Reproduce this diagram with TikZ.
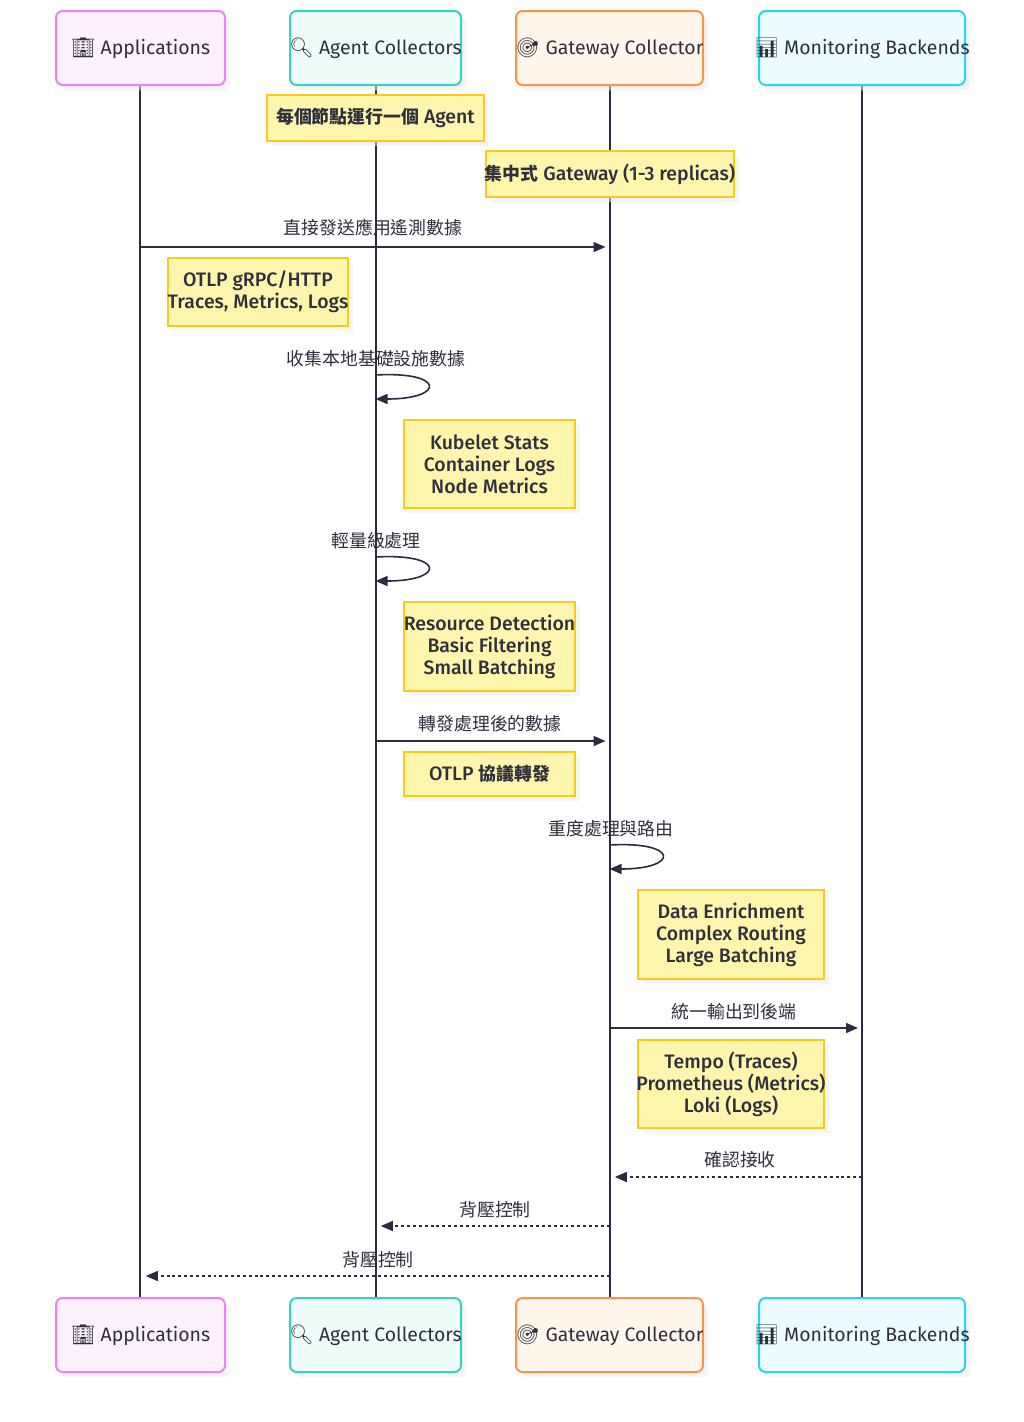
\documentclass[tikz,border=0pt]{standalone}
\usepackage{fontspec}
\setmainfont{Fira Sans}[BoldFont={Fira Sans Medium}]
\newfontfamily\cjk{Noto Sans CJK TC}
\newfontfamily\emoji{Noto Emoji}
\usetikzlibrary{positioning}
\usetikzlibrary{arrows.meta}
\usetikzlibrary{calc}
\usetikzlibrary{shadows}

\definecolor{lineC}{HTML}{2C2B42}
\definecolor{textC}{HTML}{2F2F3F}
\definecolor{noteF}{HTML}{FFF5AD}
\definecolor{noteD}{HTML}{F8CA1C}
\definecolor{appF}{HTML}{FDF1FD}
\definecolor{appD}{HTML}{EC80F6}
\definecolor{agentF}{HTML}{EFFDFA}
\definecolor{agentD}{HTML}{34D5BE}
\definecolor{gwF}{HTML}{FFF6EC}
\definecolor{gwD}{HTML}{FB9445}
\definecolor{monF}{HTML}{EBFDFF}
\definecolor{monD}{HTML}{2AD5EE}

\begin{document}
\begin{tikzpicture}[x=0.75pt, y=-0.75pt,
    actor/.style={draw=#1D, fill=#1F, line width=1.5pt, rounded corners=5pt,
        inner sep=0pt, minimum height=55.5pt,
        drop shadow={shadow xshift=4pt, shadow yshift=-4pt, fill=black!7}},
    acttxt/.style={text=textC, inner sep=0pt, font=\fontsize{14.6}{17}\selectfont},
    note/.style={draw=noteD, fill=noteF, line width=1.5pt, inner sep=0pt,
        drop shadow={shadow xshift=4pt, shadow yshift=-4pt, fill=black!7}},
    sz/.style 2 args={minimum width=#1*0.75pt, minimum height=#2*0.75pt},
    notetxt/.style={align=center, text=textC, inner sep=0pt,
        font=\bfseries\fontsize{14.6}{16.5}\selectfont},
    life/.style={draw=lineC, line width=1.5pt},
    msg/.style={draw=lineC, line width=1.2pt, -{Triangle[length=9pt, width=7.5pt]}},
    reply/.style={msg, dash pattern=on 2.2pt off 2.2pt},
    lab/.style={text=textC, inner sep=0pt, font=\cjk\fontsize{13.4}{15}\selectfont}
]
    % page
    \fill[white] (0,0) rectangle (1024,1422);
    \useasboundingbox (0,0) rectangle (1024,1422);

    % lifelines
    \foreach \n/\x in {app/140, agent/376, gw/610, mon/862} {
        \coordinate (\n T) at (\x,85);
        \coordinate (\n B) at (\x,1298);
        \draw[life] (\n T) -- (\n B);
    }

    % participants, top and bottom
    \foreach \y/\s in {48/, 1335/b} {
        \node[actor=app, sz={169}{74}] (app\s) at (140.5,\y) {};
        \node[acttxt] at (app\s) {{\emoji 🏢} Applications};
        \node[actor=agent, sz={171}{74}] (agent\s) at (375.5,\y) {};
        \node[acttxt] at (agent\s) {{\emoji 🔍} Agent Collectors};
        \node[actor=gw, sz={187}{74}] (gw\s) at (609.5,\y) {};
        \node[acttxt] at (gw\s) {{\emoji 🎯} Gateway Collector};
        \node[actor=mon, sz={206}{74}] (mon\s) at (862,\y) {};
        \node[acttxt] at (mon\s) {{\emoji 📊} Monitoring Backends};
    }

    % notes
    \node[note, sz={217}{46}] (n1) at (375.5,118) {};
    \node[notetxt] at (n1) {{\cjk\fontsize{13.4}{15}\selectfont 每個節點運行一個} Agent};
    \node[note, sz={248}{46}] (n2) at (610,174) {};
    \node[notetxt] at (n2) {{\cjk\fontsize{13.4}{15}\selectfont 集中式} Gateway (1-3 replicas)};

    % apps send straight to the gateway
    \draw[msg, shorten >=3pt] (app |- 0,247) -- (gw |- 0,247);
    \node[lab] (l1) at (373,228) {直接發送應用遙測數據};
    \node[note, sz={180}{68}] (n3) at (258,292) {};
    \node[notetxt] at (n3) {OTLP gRPC/HTTP\\Traces, Metrics, Logs};

    % agent: local collection
    \coordinate (c1) at (agent |- 0,375);
    \coordinate (c2) at (agent |- 0,399);
    \draw[msg] (c1) .. controls +(70,-4) and +(70,0) .. (c2);
    \node[lab] (l2) at (376,359) {收集本地基礎設施數據};
    \node[note, sz={171}{88}] (n4) at (489.5,464) {};
    \node[notetxt] at (n4) {Kubelet Stats\\Container Logs\\Node Metrics};

    % agent: light processing
    \coordinate (c3) at (agent |- 0,557);
    \coordinate (c4) at (agent |- 0,581);
    \draw[msg] (c3) .. controls +(70,-4) and +(70,0) .. (c4);
    \node[lab] (l3) at (376,541) {輕量級處理};
    \node[note, sz={171}{89}] (n5) at (489.5,646.5) {};
    \node[notetxt] at (n5) {Resource Detection\\Basic Filtering\\Small Batching};

    % agent forwards to gateway
    \draw[msg, shorten >=3pt] (agent |- 0,741) -- (gw |- 0,741);
    \node[lab] (l4) at (490,724) {轉發處理後的數據};
    \node[note, sz={171}{44}] (n6) at (489.5,774) {};
    \node[notetxt] at (n6) {OTLP {\cjk\fontsize{13.4}{15}\selectfont 協議轉發}};

    % gateway: heavy processing
    \coordinate (c5) at (gw |- 0,845);
    \coordinate (c6) at (gw |- 0,869);
    \draw[msg] (c5) .. controls +(70,-4) and +(70,0) .. (c6);
    \node[lab] (l5) at (611,829) {重度處理與路由};
    \node[note, sz={186}{89}] (n7) at (731,934.5) {};
    \node[notetxt] at (n7) {Data Enrichment\\Complex Routing\\Large Batching};

    % gateway exports
    \draw[msg, shorten >=3pt] (gw |- 0,1028) -- (mon |- 0,1028);
    \node[lab] (l6) at (734,1012) {統一輸出到後端};
    \node[note, sz={186}{88}] (n8) at (731,1084) {};
    \node[notetxt] at (n8) {Tempo (Traces)\\Prometheus (Metrics)\\Loki (Logs)};

    % replies
    \draw[reply, shorten >=4pt] (mon |- 0,1177) -- (gw |- 0,1177);
    \node[lab] (l7) at (740,1160) {確認接收};
    \draw[reply, shorten >=4pt] (gw |- 0,1226) -- (agent |- 0,1226);
    \node[lab] (l8) at (495,1210) {背壓控制};
    \draw[reply, shorten >=4pt] (gw |- 0,1276) -- (app |- 0,1276);
    \node[lab] (l9) at (378,1260) {背壓控制};
\end{tikzpicture}
\end{document}
